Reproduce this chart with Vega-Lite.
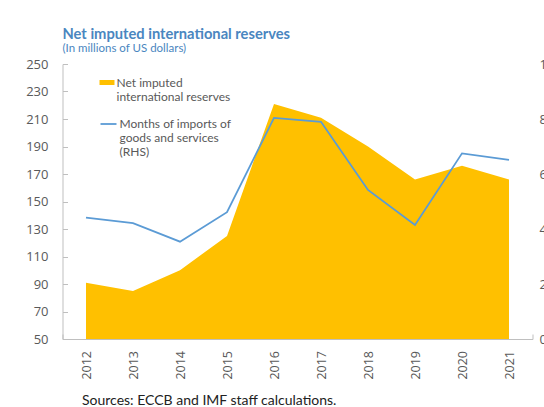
{
  "$schema": "https://vega.github.io/schema/vega-lite/v6.json",
  "autosize": "none",
  "width": 470,
  "height": 275,
  "padding": {"left": 62.5, "top": 64, "right": 11.5, "bottom": 68},
  "background": "white",
  "config": {
    "view": {"stroke": null},
    "font": "Open Sans"
  },
  "title": {
    "text": "Net imputed international reserves",
    "subtitle": "(In millions of US dollars)",
    "anchor": "start",
    "frame": "group",
    "font": "Lato",
    "fontSize": 14.7,
    "fontWeight": "bold",
    "color": "#4A86C0",
    "subtitleFont": "Lato",
    "subtitleFontSize": 11.5,
    "subtitleColor": "#4A86C0",
    "subtitlePadding": 1,
    "offset": 4
  },
  "data": {
    "values": [
      {"year": "2012", "reserves": 91, "months": 4.41},
      {"year": "2013", "reserves": 85, "months": 4.21},
      {"year": "2014", "reserves": 100, "months": 3.54},
      {"year": "2015", "reserves": 125, "months": 4.61},
      {"year": "2016", "reserves": 221, "months": 8.04},
      {"year": "2017", "reserves": 211, "months": 7.9},
      {"year": "2018", "reserves": 190, "months": 5.42},
      {"year": "2019", "reserves": 166, "months": 4.15},
      {"year": "2020", "reserves": 176, "months": 6.75},
      {"year": "2021", "reserves": 166, "months": 6.51}
    ]
  },
  "encoding": {
    "x": {
      "field": "year",
      "type": "ordinal",
      "bandPosition": 0.5,
      "scale": {"type": "band", "paddingInner": 0, "paddingOuter": 0},
      "axis": {
        "title": "Sources: ECCB and IMF staff calculations.",
        "titleFont": "Lato",
        "titleFontSize": 14,
        "titleFontWeight": "normal",
        "titleColor": "#222222",
        "titleAnchor": "start",
        "titleAlign": "left",
        "titleBaseline": "alphabetic",
        "titleX": 19,
        "titleY": 65,
        "labelAngle": -90,
        "labelFont": "Open Sans",
        "labelFontSize": 12.5,
        "labelColor": "#595959",
        "labelPadding": 16.5,
        "tickBand": "extent",
        "tickSize": -5,
        "tickColor": "#BFBFBF",
        "domainColor": "#BFBFBF",
        "grid": false
      }
    }
  },
  "layer": [
    {
      "mark": {"type": "area", "clip": true},
      "encoding": {
        "y": {
          "field": "reserves",
          "type": "quantitative",
          "scale": {"domain": [50, 250], "nice": false, "zero": false},
          "axis": {
            "title": null,
            "values": [50, 70, 90, 110, 130, 150, 170, 190, 210, 230, 250],
            "labelFont": "Open Sans",
            "labelFontSize": 13,
            "labelColor": "#595959",
            "labelPadding": 19.5,
            "tickSize": -5,
            "tickColor": "#BFBFBF",
            "domainColor": "#BFBFBF",
            "grid": false
          }
        },
        "y2": {"datum": 50},
        "fill": {
          "datum": "Net imputed|international reserves",
          "scale": {"range": ["#FFC000"]},
          "legend": {
            "title": null,
            "orient": "none",
            "legendX": 37,
            "legendY": 11,
            "padding": 0,
            "symbolType": "M-1,-0.33H1V0.33H-1Z",
            "symbolSize": 225,
            "symbolStrokeWidth": 0,
            "symbolOpacity": 1,
            "labelExpr": "split(datum.label, '|')",
            "labelFont": "Lato",
            "labelFontSize": 12,
            "labelColor": "#595959",
            "labelLineHeight": 14.5,
            "labelBaseline": "middle",
            "labelOffset": 2,
            "labelLimit": 300
          }
        }
      }
    },
    {
      "mark": {"type": "line", "strokeWidth": 1.8},
      "encoding": {
        "y": {
          "field": "months",
          "type": "quantitative",
          "scale": {"domain": [0, 10], "nice": false},
          "axis": {
            "orient": "right",
            "title": null,
            "values": [0, 2, 4, 6, 8, 10],
            "labelFont": "Open Sans",
            "labelFontSize": 13,
            "labelColor": "#595959",
            "labelPadding": 6.5,
            "ticks": false,
            "domain": false,
            "grid": false
          }
        },
        "stroke": {
          "datum": "Months of imports of|goods and services|(RHS)",
          "scale": {"range": ["#5B9BD5"]},
          "legend": {
            "title": null,
            "orient": "none",
            "legendX": 37,
            "legendY": 51,
            "padding": 0,
            "symbolType": "stroke",
            "symbolSize": 256,
            "symbolStrokeWidth": 1.8,
            "labelExpr": "split(datum.label, '|')",
            "labelFont": "Lato",
            "labelFontSize": 12,
            "labelColor": "#595959",
            "labelLineHeight": 14.5,
            "labelBaseline": "middle",
            "labelOffset": 2,
            "labelLimit": 300
          }
        }
      }
    }
  ],
  "resolve": {"scale": {"y": "independent", "fill": "independent", "stroke": "independent"}}
}
